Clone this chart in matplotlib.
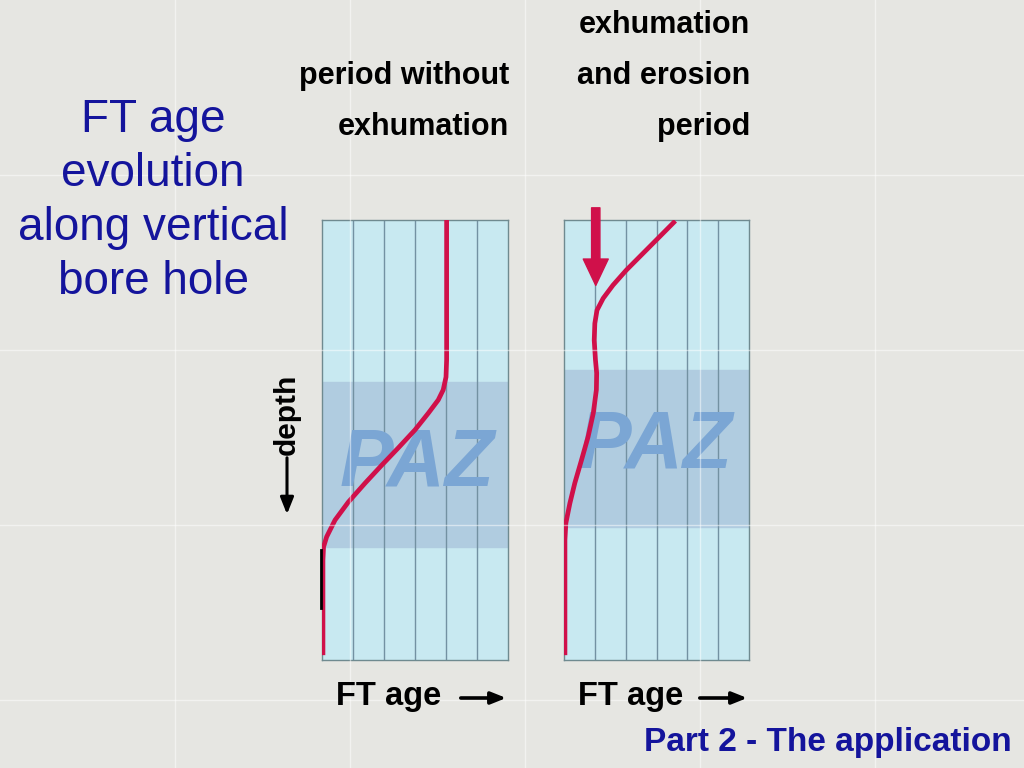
import matplotlib.pyplot as plt
from matplotlib.patches import FancyArrowPatch

# FT age (in grid columns) vs depth (fraction of the bore hole, 0 = top)
left_age = [4.02, 4.02, 4.0, 3.91, 3.75, 3.43, 3.0, 2.46, 1.93, 1.39, 0.85, 0.42, 0.15, 0.05, 0.03, 0.03]
left_depth = [0.0, 0.318, 0.357, 0.386, 0.409, 0.439, 0.477, 0.518, 0.557, 0.598, 0.641, 0.682, 0.720, 0.743, 0.773, 0.989]

right_age = [3.61, 3.10, 2.56, 2.02, 1.59, 1.27, 1.07, 1.0, 0.98, 1.02, 1.06, 1.05, 0.95, 0.78,
             0.57, 0.35, 0.19, 0.06, 0.03, 0.03]
right_depth = [0.002, 0.038, 0.076, 0.114, 0.148, 0.178, 0.205, 0.235, 0.273, 0.318, 0.348, 0.386, 0.439, 0.493,
               0.545, 0.598, 0.644, 0.689, 0.727, 0.989]

# partial annealing zone (top, bottom) in depth units
left_paz = (0.368, 0.743)
right_paz = (0.341, 0.698)

left_title = ['period without', 'exhumation']
right_title = ['exhumation', 'and erosion', 'period']
side_title = ['FT age', 'evolution', 'along vertical', 'bore hole']
footer = 'Part 2 - The application'

W, H = 1024, 768
bg = '#e6e6e2'
panel = '#c8e9f1'
paz_col = '#b0cce0'
paz_txt = '#7ba6d4'
grid_col = '#7391a2'
red = '#d0104a'
navy = '#14149c'

plt.rcParams['font.family'] = ['Liberation Sans', 'DejaVu Sans']

fig = plt.figure(figsize=(W / 100, H / 100), dpi=100, facecolor=bg)


def px(x, y):
    return x / W, 1 - y / H


# faint tile seams of the slide background
for xs in [175, 350, 525, 700, 875]:
    fig.add_artist(plt.Line2D([xs / W, xs / W], [0, 1], color='white', lw=1, alpha=0.5))
for ys in [175, 350, 525, 700]:
    fig.add_artist(plt.Line2D([0, 1], [1 - ys / H, 1 - ys / H], color='white', lw=1, alpha=0.5))


def make_panel(x0, width, age, depth, paz, paz_pos):
    ax = fig.add_axes([x0 / W, 1 - 660 / H, width / W, 440 / H])
    ax.set_facecolor(panel)
    ax.set_xlim(0, 6)
    ax.set_ylim(1, 0)
    ax.axhspan(paz[0], paz[1], color=paz_col, zorder=1)
    for g in range(1, 6):
        ax.axvline(g, color=grid_col, lw=1, zorder=2)
    ax.text(paz_pos[0], paz_pos[1], 'PAZ', color=paz_txt, fontsize=58, fontweight='bold',
            style='italic', ha='center', va='center', zorder=3)
    ax.plot(age, depth, color=red, lw=3.4, zorder=5, solid_capstyle='butt', solid_joinstyle='round')
    ax.set_xticks([])
    ax.set_yticks([])
    for s in ax.spines.values():
        s.set_color('#6f8a90')
        s.set_linewidth(1)
    return ax


ax1 = make_panel(322, 186, left_age, left_depth, left_paz, (3.06, 0.555))
ax2 = make_panel(564, 185, right_age, right_depth, right_paz, (2.94, 0.515))

# black marker on the left edge of the first panel
ax1.plot([-0.04, -0.04], [0.75, 0.882], color='black', lw=2, clip_on=False, zorder=6)

# erosion arrow in the second panel
arr = FancyArrowPatch((1.03, -0.034), (1.03, 0.155), arrowstyle='simple,head_length=0.95,head_width=0.9,tail_width=0.3',
                      mutation_scale=20, color=red, clip_on=False, zorder=6)
ax2.add_patch(arr)

# headers
for i, t in enumerate(left_title):
    fig.text(*px(509, 76 + 51 * i), t, ha='right', va='center', fontsize=22, fontweight='bold')
for i, t in enumerate(right_title):
    fig.text(*px(750, 25 + 51 * i), t, ha='right', va='center', fontsize=22, fontweight='bold')

for i, t in enumerate(side_title):
    fig.text(*px(153, 120 + 54 * i), t, ha='center', va='center', fontsize=33, color=navy)

fig.text(*px(1012, 743), footer, ha='right', va='center', fontsize=24, fontweight='bold', color=navy)

# axis labels
fig.text(*px(287, 414), 'depth', rotation=90, ha='center', va='center', fontsize=21.5, fontweight='bold')
fig.add_artist(FancyArrowPatch(px(287, 455), px(287, 517), arrowstyle='-|>,head_length=0.5,head_width=0.2',
                               mutation_scale=20, color='black', lw=2.2))

for x_txt, x_a0, x_a1 in [(336, 458, 509), (578, 697, 750)]:
    fig.text(*px(x_txt, 697), 'FT age', ha='left', va='center', fontsize=23.5, fontweight='bold')
    fig.add_artist(FancyArrowPatch(px(x_a0, 698), px(x_a1, 698), arrowstyle='-|>,head_length=0.45,head_width=0.18',
                                   mutation_scale=20, color='black', lw=2.6, zorder=5))

fig.savefig('out.png', dpi=100, facecolor=bg)
